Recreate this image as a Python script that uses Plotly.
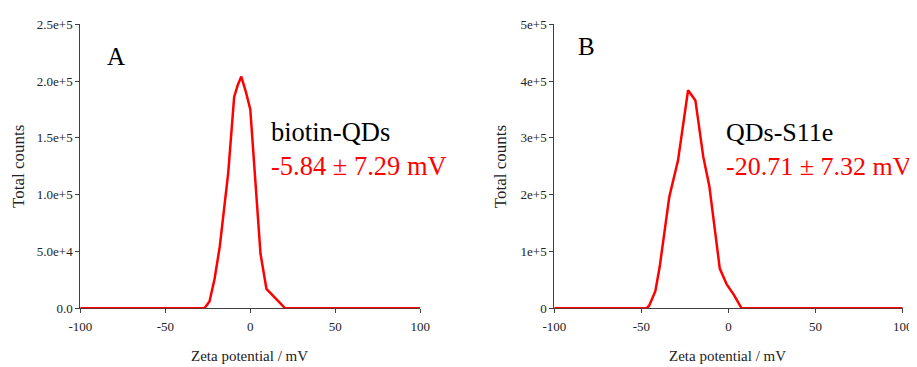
import plotly.graph_objects as go

# Panel A: biotin-QDs
zeta_a = [-100, -27, -24, -21, -18, -13, -9.5, -7.5, -5.3, -2.5, 0, 4, 6, 9.5, 20.5, 100]
counts_a = [0, 0, 6000, 26000, 54000, 119000, 186000, 196000, 204000, 190000, 175000, 84000, 48000, 17000, 0, 0]

# Panel B: QDs-S11e
zeta_b = [-100, -47, -45.5, -42, -39.5, -34, -29, -23.2, -19, -14.5, -11, -5, -1, 3, 7.5, 100]
counts_b = [0, 0, 5000, 30000, 73000, 196000, 260000, 384000, 366000, 267000, 215000, 70000, 42000, 24000, 0, 0]

x_ticks = [-100, -50, 0, 50, 100]
x_ticklabels = ["-100", "-50", "0", "50", "100"]
y_ticks_a = [0, 50000, 100000, 150000, 200000, 250000]
y_ticklabels_a = ["0.0", "5.0e+4", "1.0e+5", "1.5e+5", "2.0e+5", "2.5e+5"]
y_ticks_b = [0, 100000, 200000, 300000, 400000, 500000]
y_ticklabels_b = ["0", "1e+5", "2e+5", "3e+5", "4e+5", "5e+5"]

FONT = "Liberation Serif"
RED = "#ff0000"

# The page body has an 8px margin, so the figure is drawn 8px in from the window edge.
OFF = 8
W, H = 917 - OFF, 367 - OFF

fig = go.Figure()
fig.add_trace(go.Scatter(x=zeta_a, y=counts_a, mode="lines", line=dict(color=RED, width=2.5),
                         xaxis="x", yaxis="y", cliponaxis=False, showlegend=False))
fig.add_trace(go.Scatter(x=zeta_b, y=counts_b, mode="lines", line=dict(color=RED, width=2.5),
                         xaxis="x2", yaxis="y2", cliponaxis=False, showlegend=False))

axis_common = dict(showgrid=False, zeroline=False, showline=True, linecolor="#404040", linewidth=1,
                   ticks="outside", ticklen=4, tickcolor="#404040", layer="below traces",
                   automargin=False,
                   tickfont=dict(family=FONT, size=13, color="#222222"))


def px_x(p):
    return (p - OFF) / W


def px_y(p):
    return 1 - (p - OFF) / H


y_dom = [px_y(308.3), px_y(24.3)]
fig.update_layout(
    width=W, height=H, autosize=False,
    margin=dict(l=0, r=0, t=0, b=0, pad=0, autoexpand=False),
    paper_bgcolor="white", plot_bgcolor="white",
    xaxis=dict(domain=[px_x(80.3), px_x(420.3)], range=[-100, 100], tickvals=x_ticks,
               ticktext=x_ticklabels, anchor="y", ticklabelstandoff=2, **axis_common),
    yaxis=dict(domain=y_dom, range=[0, 250000], tickvals=y_ticks_a, ticktext=y_ticklabels_a,
               anchor="x", **axis_common),
    xaxis2=dict(domain=[px_x(554.3), px_x(902.7)], range=[-100, 100], tickvals=x_ticks,
                ticktext=x_ticklabels, anchor="y2", ticklabelstandoff=2, **axis_common),
    yaxis2=dict(domain=y_dom, range=[0, 500000], tickvals=y_ticks_b, ticktext=y_ticklabels_b,
                anchor="x2", **axis_common),
)

annotations = [
    dict(text="A", x=px_x(115.5), y=px_y(57), font=dict(size=25, color="black")),
    dict(text="biotin-QDs", x=px_x(269), y=px_y(132), font=dict(size=26.5, color="black"), xanchor="left"),
    dict(text="-5.84 ± 7.29 mV", x=px_x(269), y=px_y(166), font=dict(size=26.5, color=RED), xanchor="left"),
    dict(text="B", x=px_x(586.5), y=px_y(46.5), font=dict(size=25, color="black")),
    dict(text="QDs-S11e", x=px_x(724), y=px_y(132), font=dict(size=26, color="black"), xanchor="left"),
    dict(text="-20.71 ± 7.32 mV", x=px_x(724), y=px_y(166), font=dict(size=26, color=RED), xanchor="left"),
    dict(text="Zeta potential / mV", x=px_x(249), y=px_y(356), font=dict(size=15, color="#222222")),
    dict(text="Zeta potential / mV", x=px_x(727.5), y=px_y(356), font=dict(size=15, color="#222222")),
    dict(text="Total counts", x=px_x(18.3), y=px_y(166.7), font=dict(size=17, color="#222222"), textangle=-90),
    dict(text="Total counts", x=px_x(500.5), y=px_y(166.7), font=dict(size=17, color="#222222"), textangle=-90),
]
for a in annotations:
    a.setdefault("xanchor", "center")
    a.update(xref="paper", yref="paper", showarrow=False, yanchor="middle")
    a["font"]["family"] = FONT
    fig.add_annotation(**a)

fig.write_html("out.html")
